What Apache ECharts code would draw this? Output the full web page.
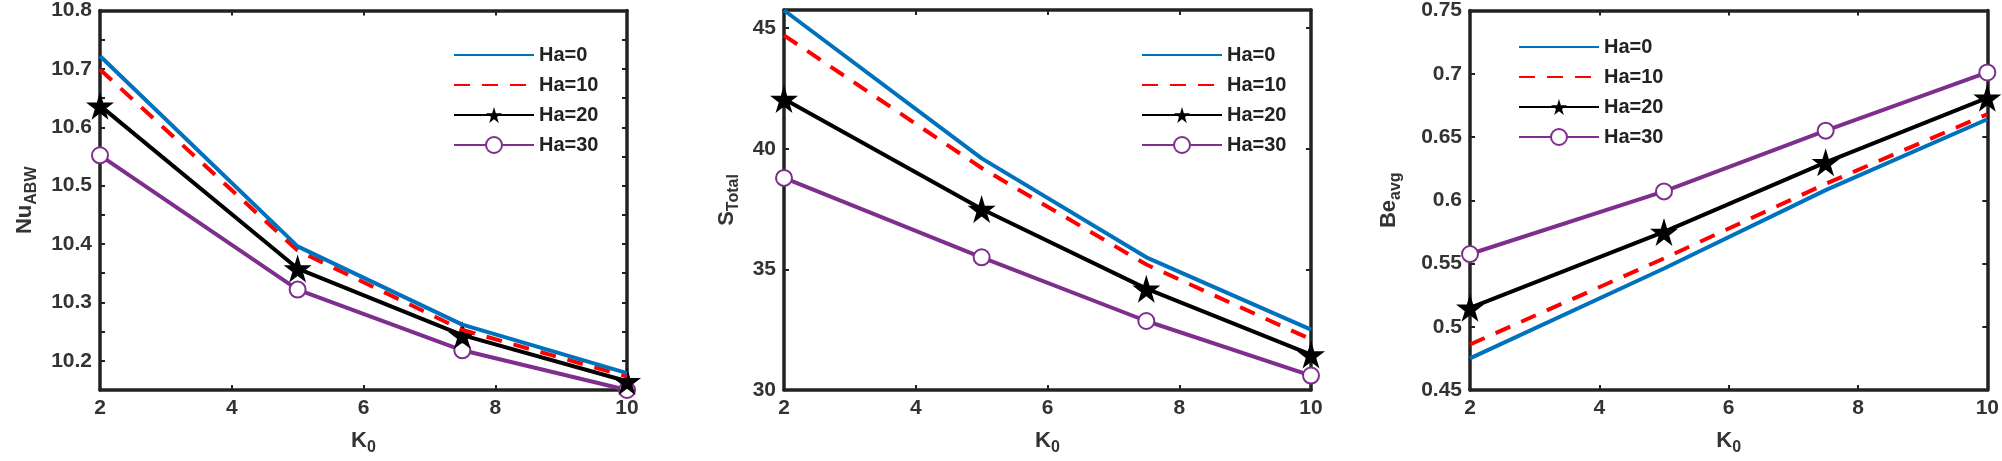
<!DOCTYPE html>
<html>
<head>
<meta charset="utf-8">
<script src="https://cdn.jsdelivr.net/npm/echarts@6/dist/echarts.min.js"></script>
<style>html,body{margin:0;background:#fff}#c{width:2002px;height:461px}</style>
</head>
<body>
<div id="c"></div>
<script>
// 横轴 K0
const k0 = [2, 5, 7.5, 10];
const seriesNames = ['Ha=0', 'Ha=10', 'Ha=20', 'Ha=30'];

// Nu_ABW
const nuHa0 = [10.722, 10.396, 10.262, 10.179];
const nuHa10 = [10.699, 10.389, 10.253, 10.173];
const nuHa20 = [10.637, 10.358, 10.244, 10.165];
const nuHa30 = [10.552, 10.322, 10.218, 10.150];

// S_Total
const sHa0 = [45.74, 39.6, 35.5, 32.5];
const sHa10 = [44.7, 39.2, 35.2, 32.1];
const sHa20 = [42.06, 37.5, 34.2, 31.47];
const sHa30 = [38.79, 35.5, 32.86, 30.6];

// Be_avg
const beHa0 = [0.475, 0.546, 0.608, 0.664];
const beHa10 = [0.486, 0.554, 0.613, 0.668];
const beHa20 = [0.515, 0.575, 0.630, 0.681];
const beHa30 = [0.5575, 0.607, 0.655, 0.701];

const STAR = 'path://M50,0 L61,35 L98,35 L68,57 L79,91 L50,70 L21,91 L32,57 L2,35 L39,35 Z';
const FONT = 'Arial, "Liberation Sans", sans-serif';
const colors = ['#0072BD', '#FF0000', '#000000', '#7E2F8E'];

const chart = echarts.init(document.getElementById('c'));

const panels = [
  {left: 100, data: [nuHa0, nuHa10, nuHa20, nuHa30], min: 10.15, max: 10.8, interval: 0.05,
   labelStep: 0.1, digits: 1, name: '{m|Nu}{s|ABW}', legendLeft: 448, legendTop: 40, nameGap: 60},
  {left: 784, data: [sHa0, sHa10, sHa20, sHa30], min: 30, max: 45.75, interval: 5,
   labelStep: 5, digits: 0, name: '{m|S}{s|Total}', legendLeft: 1136, legendTop: 40, nameGap: 42},
  {left: 1470, data: [beHa0, beHa10, beHa20, beHa30], min: 0.45, max: 0.75, interval: 0.05,
   labelStep: 0.05, digits: 2, name: '{m|Be}{s|avg}', legendLeft: 1513, legendTop: 32, nameGap: 66}
];

const grid = [], xAxis = [], yAxis = [], series = [], legend = [];
const frameLine = {show: true, lineStyle: {color: '#222', width: 3.5}};
const inTick = {show: true, inside: true, length: 5, lineStyle: {color: '#222', width: 2}};
const rich = {
  m: {fontSize: 22, fontWeight: 'bold', color: '#333', fontFamily: FONT},
  s: {fontSize: 16, fontWeight: 'bold', color: '#333', fontFamily: FONT, padding: [14, 0, 0, 0]}
};
const labelStyle = {color: '#333', fontSize: 21, fontWeight: 'bold', fontFamily: FONT};

panels.forEach((p, i) => {
  grid.push({left: p.left, width: 527, top: 10, height: 398});
  xAxis.push({
    gridIndex: i, type: 'value', min: 2, max: 10, interval: 2,
    name: '{m|K}{s|0}', nameLocation: 'middle', nameGap: 36,
    nameTextStyle: {rich},
    axisLine: frameLine, axisTick: inTick, splitLine: {show: false},
    axisLabel: Object.assign({margin: 8}, labelStyle)
  });
  xAxis.push({
    gridIndex: i, type: 'value', position: 'top', min: 2, max: 10, interval: 2,
    axisLine: frameLine, axisTick: inTick, axisLabel: {show: false}, splitLine: {show: false}
  });
  const step = p.labelStep;
  yAxis.push({
    gridIndex: i, type: 'value', min: p.min, max: p.max, interval: p.interval,
    name: p.name, nameLocation: 'middle', nameGap: p.nameGap, nameRotate: 90,
    nameTextStyle: {rich},
    axisLine: frameLine, axisTick: inTick, splitLine: {show: false},
    axisLabel: Object.assign({}, labelStyle, {
      showMaxLabel: i !== 1,
      formatter: v => {
        const r = Math.round(v / step) * step;
        if (Math.abs(r - v) > 1e-6) return '';
        return String(parseFloat(v.toFixed(p.digits)));
      }
    })
  });
  yAxis.push({
    gridIndex: i, type: 'value', position: 'right', min: p.min, max: p.max, interval: p.interval,
    axisLine: frameLine, axisTick: inTick, axisLabel: {show: false}, splitLine: {show: false}
  });
  p.data.forEach((vals, j) => {
    const s = {
      name: seriesNames[j], type: 'line', xAxisIndex: i * 2, yAxisIndex: i * 2,
      data: k0.map((x, n) => [x, vals[n]]),
      lineStyle: {color: colors[j], width: 4, type: j === 1 ? [16, 12] : 'solid'},
      itemStyle: {color: colors[j]},
      symbol: 'none', z: 10 - j
    };
    if (j === 2) {
      s.symbol = STAR; s.symbolSize = 28;
      s.itemStyle = {color: '#000'};
    } else if (j === 3) {
      s.symbol = 'emptyCircle'; s.symbolSize = 16;
      s.itemStyle = {color: colors[3], borderColor: colors[3], borderWidth: 3.5};
    }
    series.push(s);
  });
  legend.push({
    left: p.legendLeft, top: p.legendTop, orient: 'vertical', itemGap: 10,
    itemWidth: 80, itemHeight: 20,
    data: seriesNames.map((n, j) => j < 2 ? {name: n, itemStyle: {opacity: 0}} : {name: n}),
    textStyle: {color: '#222', fontSize: 20, fontWeight: 'bold', fontFamily: FONT}
  });
});

chart.setOption({
  backgroundColor: '#fff',
  animation: false,
  grid, xAxis, yAxis, series, legend
});
</script>
</body>
</html>
